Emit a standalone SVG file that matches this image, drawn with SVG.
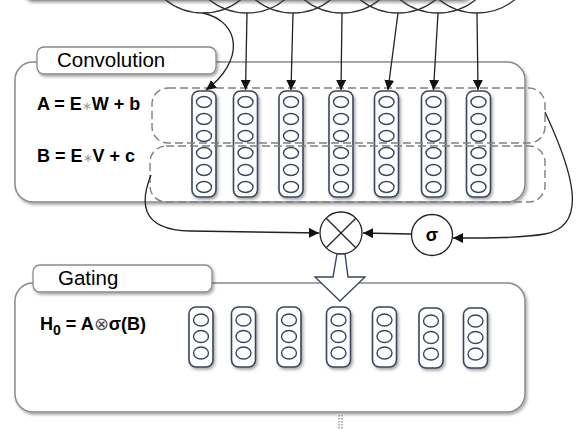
<svg xmlns="http://www.w3.org/2000/svg" width="580" height="429" viewBox="0 0 580 429">
<defs>
<filter id="sh" x="-10%" y="-10%" width="130%" height="140%">
<feDropShadow dx="1.5" dy="2" stdDeviation="1.5" flood-color="#000" flood-opacity="0.35"/>
</filter>
<marker id="ah" viewBox="0 0 10 10" refX="10" refY="5" markerWidth="10" markerHeight="10" markerUnits="userSpaceOnUse" orient="auto">
<path d="M0,0 L10,5 L0,10 z" fill="#111"/>
</marker>
</defs>
<style>
.panel{fill:#fff;stroke:#8a8a8a;stroke-width:1.5}
.tab{fill:#fff;stroke:#8a8a8a;stroke-width:1.3}
.dash{fill:none;stroke:#808080;stroke-width:1.4;stroke-dasharray:8 4}
.col{fill:#fff;stroke:#3b4560;stroke-width:1.6}
.cell{fill:#fff;stroke:#3b4560;stroke-width:1.4}
.wire{fill:none;stroke:#222;stroke-width:1.3}
.emb{fill:none;stroke:#333;stroke-width:1.3}
.ttl{font-family:"Liberation Sans",Arial,sans-serif;font-size:20.5px;fill:#000}
.eq{font-family:"Liberation Sans",Arial,sans-serif;font-size:18px;font-weight:bold;fill:#000}
</style>

<g id="embedding">
<rect x="24" y="-30" width="446" height="30" rx="8" class="panel" filter="url(#sh)"/>
<circle cx="203" cy="-47" r="60" class="emb"/>
<circle cx="247" cy="-47" r="60" class="emb"/>
<circle cx="293" cy="-47" r="60" class="emb"/>
<circle cx="342" cy="-47" r="60" class="emb"/>
<circle cx="398" cy="-47" r="60" class="emb"/>
<circle cx="438" cy="-47" r="60" class="emb"/>
<circle cx="477" cy="-47" r="60" class="emb"/>
</g>

<g id="convolution">
<rect x="15" y="62" width="510" height="140" rx="18" class="panel" filter="url(#sh)"/>
<rect x="37" y="47" width="179" height="27" rx="7" class="tab" filter="url(#sh)"/>
<text x="57" y="67" class="ttl">Convolution</text>
<text x="37" y="110" class="eq">A = E<tspan fill="#999" font-size="12" font-weight="normal">∗</tspan>W + b</text>
<text x="37" y="162" class="eq">B = E<tspan fill="#999" font-size="12" font-weight="normal">∗</tspan>V + c</text>
<g id="conv-cols">
<g id="cc1"><rect x="192" y="91" width="24" height="106" rx="7" class="col" filter="url(#sh)"/>
<ellipse cx="204" cy="102" rx="7.5" ry="5.5" class="cell"/><ellipse cx="204" cy="119" rx="7.5" ry="5.5" class="cell"/><ellipse cx="204" cy="136" rx="7.5" ry="5.5" class="cell"/><ellipse cx="204" cy="153" rx="7.5" ry="5.5" class="cell"/><ellipse cx="204" cy="170" rx="7.5" ry="5.5" class="cell"/><ellipse cx="204" cy="187" rx="7.5" ry="5.5" class="cell"/></g>
<g id="cc2"><rect x="233.5" y="91" width="24" height="106" rx="7" class="col" filter="url(#sh)"/>
<ellipse cx="245.5" cy="102" rx="7.5" ry="5.5" class="cell"/><ellipse cx="245.5" cy="119" rx="7.5" ry="5.5" class="cell"/><ellipse cx="245.5" cy="136" rx="7.5" ry="5.5" class="cell"/><ellipse cx="245.5" cy="153" rx="7.5" ry="5.5" class="cell"/><ellipse cx="245.5" cy="170" rx="7.5" ry="5.5" class="cell"/><ellipse cx="245.5" cy="187" rx="7.5" ry="5.5" class="cell"/></g>
<g id="cc3"><rect x="279" y="91" width="24" height="106" rx="7" class="col" filter="url(#sh)"/>
<ellipse cx="291" cy="102" rx="7.5" ry="5.5" class="cell"/><ellipse cx="291" cy="119" rx="7.5" ry="5.5" class="cell"/><ellipse cx="291" cy="136" rx="7.5" ry="5.5" class="cell"/><ellipse cx="291" cy="153" rx="7.5" ry="5.5" class="cell"/><ellipse cx="291" cy="170" rx="7.5" ry="5.5" class="cell"/><ellipse cx="291" cy="187" rx="7.5" ry="5.5" class="cell"/></g>
<g id="cc4"><rect x="329" y="91" width="24" height="106" rx="7" class="col" filter="url(#sh)"/>
<ellipse cx="341" cy="102" rx="7.5" ry="5.5" class="cell"/><ellipse cx="341" cy="119" rx="7.5" ry="5.5" class="cell"/><ellipse cx="341" cy="136" rx="7.5" ry="5.5" class="cell"/><ellipse cx="341" cy="153" rx="7.5" ry="5.5" class="cell"/><ellipse cx="341" cy="170" rx="7.5" ry="5.5" class="cell"/><ellipse cx="341" cy="187" rx="7.5" ry="5.5" class="cell"/></g>
<g id="cc5"><rect x="374.5" y="91" width="24" height="106" rx="7" class="col" filter="url(#sh)"/>
<ellipse cx="386.5" cy="102" rx="7.5" ry="5.5" class="cell"/><ellipse cx="386.5" cy="119" rx="7.5" ry="5.5" class="cell"/><ellipse cx="386.5" cy="136" rx="7.5" ry="5.5" class="cell"/><ellipse cx="386.5" cy="153" rx="7.5" ry="5.5" class="cell"/><ellipse cx="386.5" cy="170" rx="7.5" ry="5.5" class="cell"/><ellipse cx="386.5" cy="187" rx="7.5" ry="5.5" class="cell"/></g>
<g id="cc6"><rect x="421.5" y="91" width="24" height="106" rx="7" class="col" filter="url(#sh)"/>
<ellipse cx="433.5" cy="102" rx="7.5" ry="5.5" class="cell"/><ellipse cx="433.5" cy="119" rx="7.5" ry="5.5" class="cell"/><ellipse cx="433.5" cy="136" rx="7.5" ry="5.5" class="cell"/><ellipse cx="433.5" cy="153" rx="7.5" ry="5.5" class="cell"/><ellipse cx="433.5" cy="170" rx="7.5" ry="5.5" class="cell"/><ellipse cx="433.5" cy="187" rx="7.5" ry="5.5" class="cell"/></g>
<g id="cc7"><rect x="466.5" y="91" width="24" height="106" rx="7" class="col" filter="url(#sh)"/>
<ellipse cx="478.5" cy="102" rx="7.5" ry="5.5" class="cell"/><ellipse cx="478.5" cy="119" rx="7.5" ry="5.5" class="cell"/><ellipse cx="478.5" cy="136" rx="7.5" ry="5.5" class="cell"/><ellipse cx="478.5" cy="153" rx="7.5" ry="5.5" class="cell"/><ellipse cx="478.5" cy="170" rx="7.5" ry="5.5" class="cell"/><ellipse cx="478.5" cy="187" rx="7.5" ry="5.5" class="cell"/></g>
</g>
<rect id="dashA" x="152" y="88" width="393" height="55" rx="16" class="dash"/>
<rect id="dashB" x="150" y="146" width="395" height="56" rx="16" class="dash"/>
</g>

<g id="multiply">
<circle cx="341" cy="233" r="21" fill="#fff" stroke="#222" stroke-width="1.3"/>
<path d="M326.2,218.2 L355.8,247.8 M355.8,218.2 L326.2,247.8" stroke="#222" stroke-width="1.3"/>
</g>
<g id="sigma">
<circle cx="432" cy="235" r="20.5" fill="#fff" stroke="#222" stroke-width="1.3"/>
<text x="432" y="241" text-anchor="middle" class="eq" font-size="19">σ</text>
</g>

<g id="gating">
<rect x="15" y="283" width="510" height="129" rx="18" class="panel" filter="url(#sh)"/>
<rect x="33" y="265" width="179" height="27" rx="7" class="tab" filter="url(#sh)"/>
<text x="58" y="285" class="ttl">Gating</text>
<text x="40" y="330" class="eq" font-size="17.5">H<tspan font-size="14" dy="5">0</tspan><tspan dy="-5"> = A</tspan><tspan font-weight="normal" fill="#555">⊗</tspan>σ(B)</text>
<g id="gc1"><rect x="189" y="307" width="24" height="60" rx="7" class="col" filter="url(#sh)"/>
<ellipse cx="201" cy="320" rx="7.5" ry="6" class="cell"/><ellipse cx="201" cy="336.5" rx="7.5" ry="6" class="cell"/><ellipse cx="201" cy="353" rx="7.5" ry="6" class="cell"/></g>
<g id="gc2"><rect x="231.5" y="307" width="24" height="60" rx="7" class="col" filter="url(#sh)"/>
<ellipse cx="243.5" cy="320" rx="7.5" ry="6" class="cell"/><ellipse cx="243.5" cy="336.5" rx="7.5" ry="6" class="cell"/><ellipse cx="243.5" cy="353" rx="7.5" ry="6" class="cell"/></g>
<g id="gc3"><rect x="277" y="307" width="24" height="60" rx="7" class="col" filter="url(#sh)"/>
<ellipse cx="289" cy="320" rx="7.5" ry="6" class="cell"/><ellipse cx="289" cy="336.5" rx="7.5" ry="6" class="cell"/><ellipse cx="289" cy="353" rx="7.5" ry="6" class="cell"/></g>
<g id="gc4"><rect x="326.5" y="307" width="24" height="60" rx="7" class="col" filter="url(#sh)"/>
<ellipse cx="338.5" cy="320" rx="7.5" ry="6" class="cell"/><ellipse cx="338.5" cy="336.5" rx="7.5" ry="6" class="cell"/><ellipse cx="338.5" cy="353" rx="7.5" ry="6" class="cell"/></g>
<g id="gc5"><rect x="372.5" y="307" width="24" height="60" rx="7" class="col" filter="url(#sh)"/>
<ellipse cx="384.5" cy="320" rx="7.5" ry="6" class="cell"/><ellipse cx="384.5" cy="336.5" rx="7.5" ry="6" class="cell"/><ellipse cx="384.5" cy="353" rx="7.5" ry="6" class="cell"/></g>
<g id="gc6"><rect x="419" y="308" width="24" height="60" rx="7" class="col" filter="url(#sh)"/>
<ellipse cx="431" cy="321" rx="7.5" ry="6" class="cell"/><ellipse cx="431" cy="337.5" rx="7.5" ry="6" class="cell"/><ellipse cx="431" cy="354" rx="7.5" ry="6" class="cell"/></g>
<g id="gc7"><rect x="463.5" y="308" width="24" height="60" rx="7" class="col" filter="url(#sh)"/>
<ellipse cx="475.5" cy="321" rx="7.5" ry="6" class="cell"/><ellipse cx="475.5" cy="337.5" rx="7.5" ry="6" class="cell"/><ellipse cx="475.5" cy="354" rx="7.5" ry="6" class="cell"/></g>
</g>

<g id="down-arrow">
<polygon points="337,254 345,254 348,277 365,277 340,301 315,277 333,277" fill="#fff" stroke="#3b4560" stroke-width="1.4"/>
</g>

<g id="below">
<path d="M339,415 L339,429 M342,415 L342,429" stroke="#666" stroke-width="1" stroke-dasharray="1.5 1.5"/>
</g>

<g id="connectors">
<path d="M203,13 C242,22 244,62 206,90" class="wire" marker-end="url(#ah)"/>
<path d="M247,13 L245.5,90" class="wire" marker-end="url(#ah)"/>
<path d="M293,13 L291,90" class="wire" marker-end="url(#ah)"/>
<path d="M342,13 L341,90" class="wire" marker-end="url(#ah)"/>
<path d="M398,13 L388,90" class="wire" marker-end="url(#ah)"/>
<path d="M438,13 L433.5,90" class="wire" marker-end="url(#ah)"/>
<path d="M477,13 L478,90" class="wire" marker-end="url(#ah)"/>
<path d="M151,175 C141,200 138,230 190,231 L319,233" class="wire" marker-end="url(#ah)"/>
<path d="M411,234 L363,233" class="wire" marker-end="url(#ah)"/>
<path d="M545,112 C572,170 590,226 545,234 C520,238 490,238 453,238" class="wire" marker-end="url(#ah)"/>
</g>
</svg>
